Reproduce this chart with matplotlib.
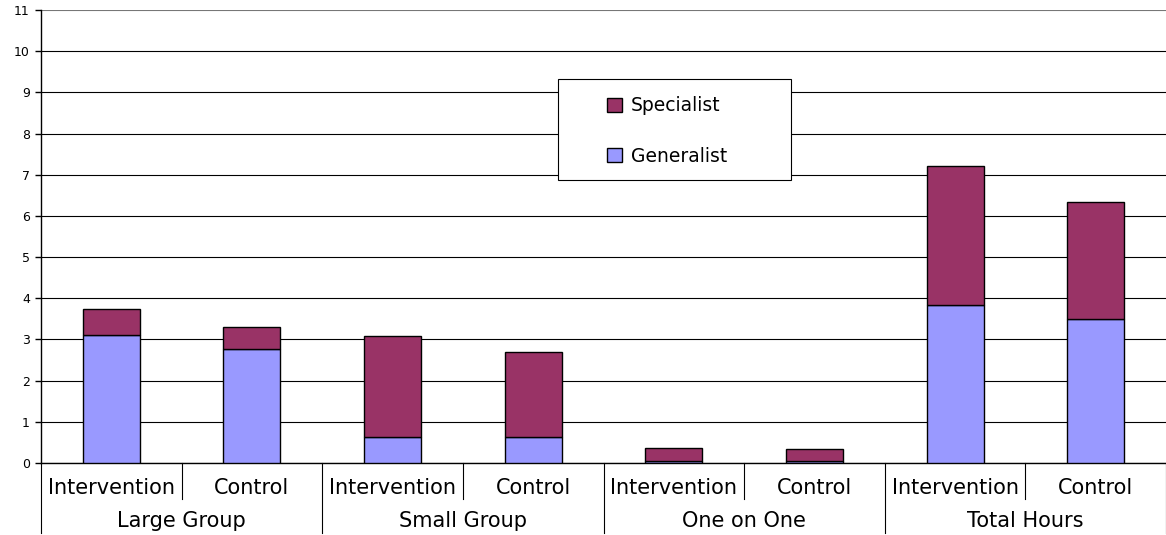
import matplotlib.pyplot as plt
from matplotlib.patches import Rectangle
import numpy as np

plt.rcParams['font.family'] = ['DejaVu Sans']

# data
groups = ['Large Group', 'Small Group', 'One on One', 'Total Hours']
arms = ['Intervention', 'Control']
generalist = [3.11, 2.77, 0.63, 0.63, 0.05, 0.05, 3.83, 3.50]
specialist = [0.63, 0.53, 2.45, 2.06, 0.31, 0.30, 3.38, 2.83]

gen_color = '#9999FF'
spec_color = '#993366'

fig = plt.figure(figsize=(11.66, 5.35), dpi=100)
ax = fig.add_axes([41 / 1166, 1 - 463 / 535, 1 - 41 / 1166, 453 / 535])

x = np.arange(len(generalist))
w = 0.405
b_gen = ax.bar(x, generalist, w, color=gen_color, edgecolor='black', linewidth=1, zorder=3, label='Generalist')
b_spec = ax.bar(x, specialist, w, bottom=generalist, color=spec_color, edgecolor='black', linewidth=1, zorder=3,
                label='Specialist')

ax.set_xlim(-0.5, len(x) - 0.5)
ax.set_ylim(0, 11)
ax.set_yticks(range(0, 12))
ax.tick_params(axis='y', labelsize=9, length=4, width=1, pad=4)
ax.set_xticks([])
ax.grid(axis='y', color='black', linewidth=0.8, zorder=0)
ax.get_ygridlines()[-1].set_color('#777777')
for s in ['top', 'right']:
    ax.spines[s].set_visible(False)
ax.spines['left'].set_linewidth(1)
ax.spines['bottom'].set_linewidth(1)

# two-level category axis
tr = ax.get_xaxis_transform()
h = 453.0
for i in range(len(x) + 1):
    if i % 2 == 0:
        y0 = -70 / h
    else:
        y0 = -36 / h
    ax.plot([i - 0.5, i - 0.5], [0, y0], color='black', linewidth=0.8, transform=tr, clip_on=False)
for i in x:
    ax.text(i, -25 / h, arms[i % 2], ha='center', va='center', fontsize=15, transform=tr)
for g, name in enumerate(groups):
    ax.text(2 * g + 0.5, -58 / h, name, ha='center', va='center', fontsize=15, transform=tr)

# legend box
box = Rectangle(((558 - 41) / 1125, (463 - 180) / h), 233 / 1125, 101 / h, transform=ax.transAxes,
                facecolor='white', edgecolor='black', linewidth=0.8, zorder=4)
ax.add_patch(box)
leg = ax.legend([b_spec, b_gen], ['Specialist', 'Generalist'], loc='upper left',
                bbox_to_anchor=((598 - 41) / 1125, (463 - 87) / h), frameon=False, fontsize=13.5,
                handlelength=0.8, handleheight=0.8, handletextpad=0.45, labelspacing=1.67, borderpad=0)
leg.set_zorder(5)

fig.savefig('out.png', dpi=100)
